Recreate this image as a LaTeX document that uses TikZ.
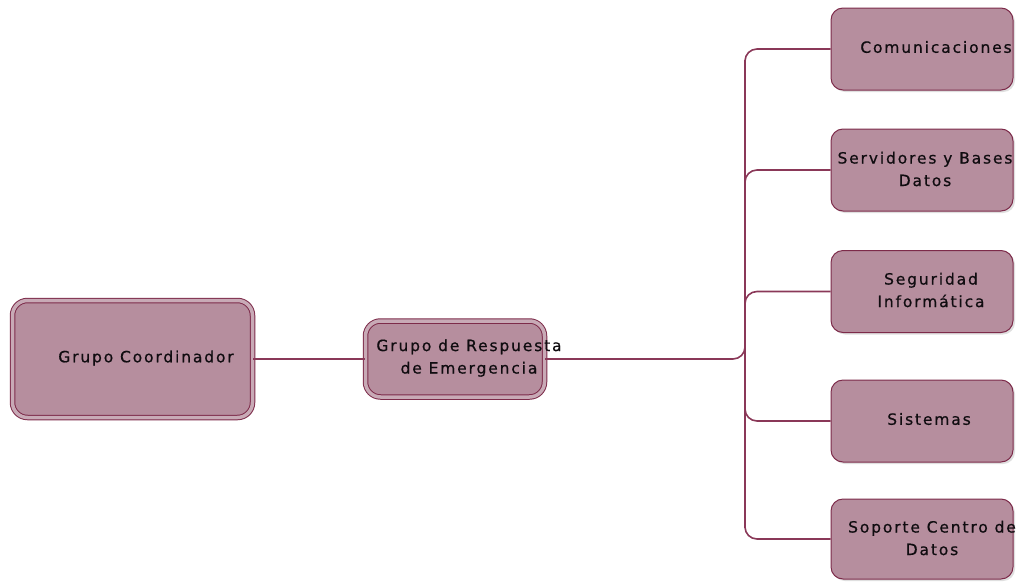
\documentclass[tikz,border=0pt]{standalone}
\usepackage{fontspec}
\setmainfont{DejaVu Sans}[LetterSpace=12,FakeBold=0.6]
\usetikzlibrary{shadows}
\definecolor{boxfill}{HTML}{B68E9E}
\definecolor{boxline}{HTML}{7D2B4A}
\definecolor{connline}{HTML}{8A3858}
\definecolor{txt}{HTML}{100C10}
\tikzset{
  box/.style={draw=boxline, line width=1pt, fill=boxfill, rounded corners=12pt,
    drop shadow={opacity=0.25, shadow xshift=2pt, shadow yshift=-2pt}},
  dbox/.style={draw=boxline, double=boxfill!75!white, double distance=3.5pt, line width=1pt,
    fill=boxfill, rounded corners=15pt,
    drop shadow={opacity=0.25, shadow xshift=2pt, shadow yshift=-2pt}},
  lbl/.style={font=\fontsize{15.5pt}{22.5pt}\selectfont, text=txt, align=center, inner sep=0pt},
  conn/.style={draw=connline, line width=1.6pt, rounded corners=12pt}
}
\begin{document}
\begin{tikzpicture}[x=1pt,y=-1pt]
\useasboundingbox (0,0) rectangle (1025,581);
% boxes
\node[dbox, minimum width=240pt, minimum height=117pt] (gc) at (132.5,359) {};
\node[dbox, minimum width=179pt, minimum height=76pt] (gr) at (455,359) {};
\node[box, minimum width=182pt, minimum height=82pt] (c1) at (922,49) {};
\node[box, minimum width=182pt, minimum height=82pt] (c2) at (922,170) {};
\node[box, minimum width=182pt, minimum height=82pt] (c3) at (922,291.5) {};
\node[box, minimum width=182pt, minimum height=82pt] (c4) at (922,421) {};
\node[box, minimum width=182pt, minimum height=80pt] (c5) at (922,539) {};
% connectors
\coordinate (j) at (745,359);
\draw[conn] (gc.east) -- (gr.west);
\draw[conn] (gr.east) -- (j) -- ([yshift=30pt]j);
\draw[conn] (c5.west -| j) ++(0,-40) |- (c5.west);
\draw[conn] (c1.west -| j) ++(0,40) |- (c1.west);
\draw[draw=connline, line width=1.6pt] (745,60) -- (745,528);
\foreach \c in {c2,c3}{
  \draw[conn] (\c.west -| j) ++(0,40) |- (\c.west);
}
\draw[conn] (c4.west -| j) ++(0,-40) |- (c4.west);
% labels
\node[lbl] (t0) at (146,358) {Grupo Coordinador};
\node[lbl] (t1) at (469,358) {Grupo de Respuesta\\de Emergencia};
\node[lbl] (t2) at (936,47) {Comunicaciones};
\node[lbl] (t3) at (925,169) {Servidores y Bases\\Datos};
\node[lbl] (t4) at (931,290) {Seguridad\\Informática};
\node[lbl] (t5) at (929,419) {Sistemas};
\node[lbl] (t6) at (932,538) {Soporte Centro de\\Datos};
\end{tikzpicture}
\end{document}
